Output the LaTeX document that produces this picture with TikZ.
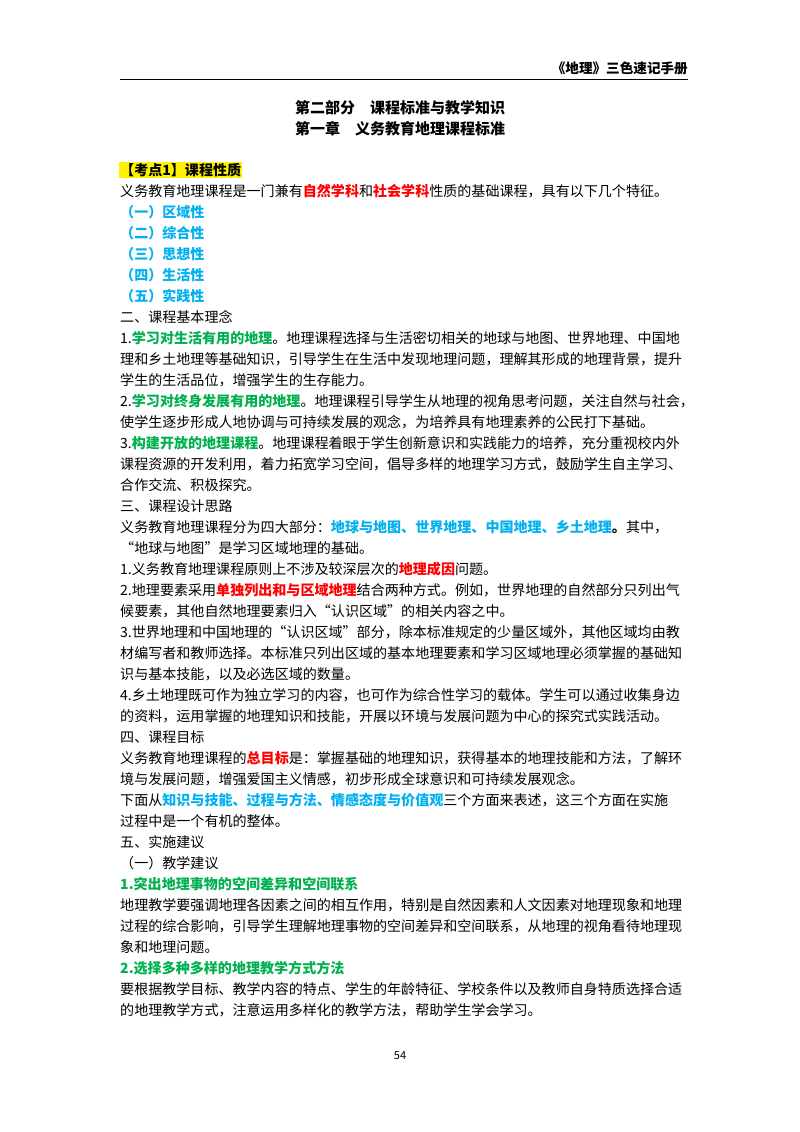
\documentclass[tikz,border=0pt]{standalone}
\usepackage{fontspec}
\setmainfont{Noto Sans CJK SC}
\definecolor{gg}{HTML}{00B050}
\definecolor{rr}{HTML}{FF0000}
\definecolor{bb}{HTML}{00B0F0}
\newcommand\GG[1]{\textbf{\color{gg}#1}}
\newcommand\RR[1]{\textbf{\color{rr}#1}}
\newcommand\BB[1]{\textbf{\color{bb}#1}}
\begin{document}
\begin{tikzpicture}[x=1pt,y=-1pt,
  ln/.style={anchor=west,inner sep=0pt,font=\fontsize{14.05}{17}\selectfont},
  full/.style={ln},
  ttl/.style={inner sep=0pt,font=\fontsize{15}{18}\selectfont\bfseries}]
\useasboundingbox (0,0) rectangle (800,1132);
\fill[white] (0,0) rectangle (800,1132);
\node[anchor=east,inner sep=0pt,font=\fontsize{13.6}{17}\selectfont\bfseries] (hd) at (688,68) {《地理》三色速记手册};
\coordinate (r1) at (120,79); \coordinate (r2) at (688,79);
\draw[line width=0.8pt] (r1) -- (r2);
\node[ttl] (t1) at (400,108) {第二部分\quad 课程标准与教学知识};
\node[ttl] (t2) at (400,129) {第一章\quad 义务教育地理课程标准};
\node[ln,fill=yellow,inner sep=1pt,font=\fontsize{14.05}{17}\selectfont\bfseries] (k1) at (119,170) {【考点1】课程性质};
\node[ln] (a1) at (120,191) {义务教育地理课程是一门兼有\RR{自然学科}和\RR{社会学科}性质的基础课程，具有以下几个特征。};
\node[ln] (a2) at (120,212) {\BB{（一）区域性}};
\node[ln] (a3) at (120,233) {\BB{（二）综合性}};
\node[ln] (a4) at (120,254) {\BB{（三）思想性}};
\node[ln] (a5) at (120,275) {\BB{（四）生活性}};
\node[ln] (a6) at (120,296) {\BB{（五）实践性}};
\node[ln] (b0) at (120,317) {二、课程基本理念};
\node[full] (b1) at (120,338) {1.\GG{学习对生活有用的地理}。地理课程选择与生活密切相关的地球与地图、世界地理、中国地};
\node[full] (b2) at (120,359) {理和乡土地理等基础知识，引导学生在生活中发现地理问题，理解其形成的地理背景，提升};
\node[ln] (b3) at (120,380) {学生的生活品位，增强学生的生存能力。};
\node[full] (b4) at (120,401) {2.\GG{学习对终身发展有用的地理}。地理课程引导学生从地理的视角思考问题，关注自然与社会，};
\node[full] (b5) at (120,422) {使学生逐步形成人地协调与可持续发展的观念，为培养具有地理素养的公民打下基础。};
\node[full] (b6) at (120,443) {3.\GG{构建开放的地理课程}。地理课程着眼于学生创新意识和实践能力的培养，充分重视校内外};
\node[full] (b7) at (120,464) {课程资源的开发利用，着力拓宽学习空间，倡导多样的地理学习方式，鼓励学生自主学习、};
\node[ln] (b8) at (120,485) {合作交流、积极探究。};
\node[ln] (c0) at (120,506) {三、课程设计思路};
\node[full] (c1) at (120,527) {义务教育地理课程分为四大部分：\BB{地球与地图、世界地理、中国地理、乡土地理}\textbf{。}其中，};
\node[ln] (c2) at (120,548) {“地球与地图”是学习区域地理的基础。};
\node[ln] (c3) at (120,569) {1.义务教育地理课程原则上不涉及较深层次的\RR{地理成因}问题。};
\node[full] (c4) at (120,590) {2.地理要素采用\RR{单独列出和与区域地理}结合两种方式。例如，世界地理的自然部分只列出气};
\node[ln] (c5) at (120,611) {候要素，其他自然地理要素归入“认识区域”的相关内容之中。};
\node[full] (c6) at (120,632) {3.世界地理和中国地理的“认识区域”部分，除本标准规定的少量区域外，其他区域均由教};
\node[full] (c7) at (120,653) {材编写者和教师选择。本标准只列出区域的基本地理要素和学习区域地理必须掌握的基础知};
\node[ln] (c8) at (120,674) {识与基本技能，以及必选区域的数量。};
\node[full] (c9) at (120,695) {4.乡土地理既可作为独立学习的内容，也可作为综合性学习的载体。学生可以通过收集身边};
\node[ln] (c10) at (120,716) {的资料，运用掌握的地理知识和技能，开展以环境与发展问题为中心的探究式实践活动。};
\node[ln] (d0) at (120,737) {四、课程目标};
\node[full] (d1) at (120,758) {义务教育地理课程的\RR{总目标}是：掌握基础的地理知识，获得基本的地理技能和方法，了解环};
\node[ln] (d2) at (120,779) {境与发展问题，增强爱国主义情感，初步形成全球意识和可持续发展观念。};
\node[full] (d3) at (120,800) {下面从\BB{知识与技能、过程与方法、情感态度与价值观}三个方面来表述，这三个方面在实施};
\node[ln] (d4) at (120,821) {过程中是一个有机的整体。};
\node[ln] (e0) at (120,842) {五、实施建议};
\node[ln] (e1) at (120,863) {（一）教学建议};
\node[ln] (e2) at (120,884) {\GG{1.突出地理事物的空间差异和空间联系}};
\node[full] (e3) at (120,905) {地理教学要强调地理各因素之间的相互作用，特别是自然因素和人文因素对地理现象和地理};
\node[full] (e4) at (120,926) {过程的综合影响，引导学生理解地理事物的空间差异和空间联系，从地理的视角看待地理现};
\node[ln] (e5) at (120,947) {象和地理问题。};
\node[ln] (e6) at (120,968) {\GG{2.选择多种多样的地理教学方式方法}};
\node[full] (e7) at (120,989) {要根据教学目标、教学内容的特点、学生的年龄特征、学校条件以及教师自身特质选择合适};
\node[ln] (e8) at (120,1010) {的地理教学方式，注意运用多样化的教学方法，帮助学生学会学习。};
\node[inner sep=0pt,font=\fontsize{11}{13}\selectfont] (pg) at (400,1056) {54};
\end{tikzpicture}
\end{document}
